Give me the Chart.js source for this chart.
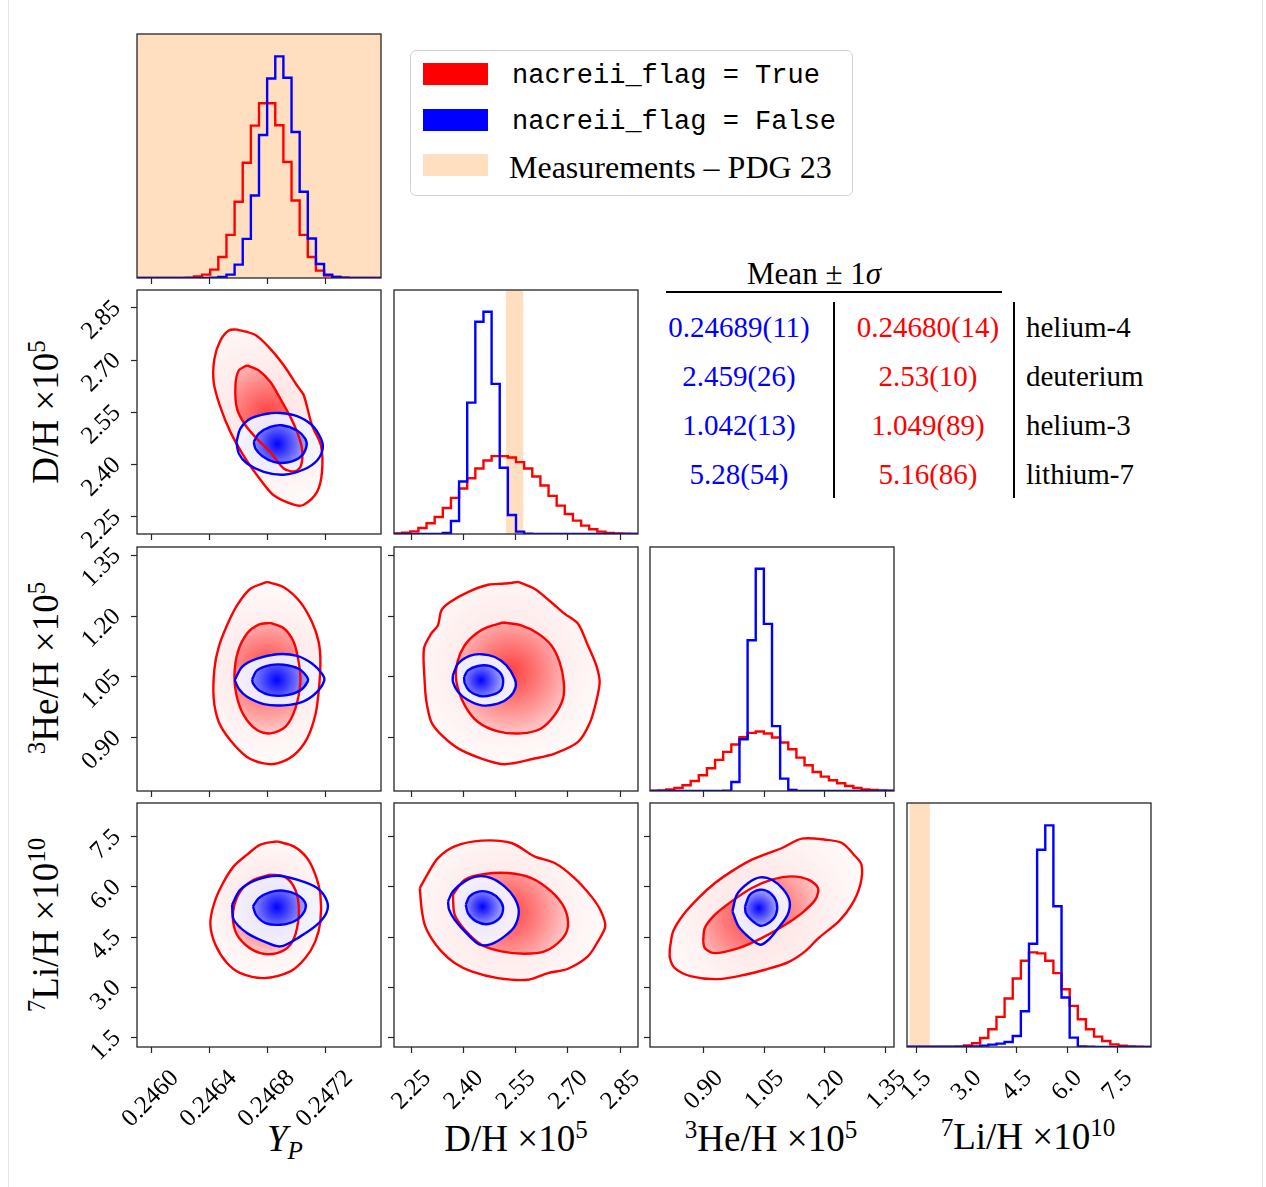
<!DOCTYPE html>
<html>
<head>
<meta charset="utf-8">
<title>BBN corner plot</title>
<script src="https://cdn.jsdelivr.net/npm/chart.js@4.4.1/dist/chart.umd.min.js"></script>
<style>
  html, body { margin: 0; padding: 0; background: #fff; }
  body { position: relative; width: 1266px; height: 1187px; overflow: hidden; font-family: 'Liberation Serif', 'Times New Roman', serif; color: #000; }
  .page-edge { position: absolute; left: 8px; top: -2px; width: 1253px; height: 1200px; border-left: 1px solid #e4e4e4; border-right: 1px solid #e4e4e4; }
  .panel { position: absolute; }
  .axis-title { position: absolute; font-size: 37px; white-space: nowrap; line-height: 1; transform: translate(-50%, -50%); }
  .axis-title.y { transform: translate(-50%, -50%) rotate(-90deg); }
  sup { font-size: 0.68em; position: relative; top: -0.5em; vertical-align: baseline; line-height: 0; }
  sub { font-size: 0.68em; position: relative; top: 0.3em; vertical-align: baseline; line-height: 0; }
  #legend { position: absolute; left: 410px; top: 50px; width: 441px; height: 144px; border: 1.5px solid #d2d2d2; border-radius: 6px; background: #fff; }
  #legend .patch { position: absolute; left: 12px; width: 65px; height: 22px; }
  #legend .label { position: absolute; white-space: nowrap; transform: translateY(-50%); line-height: 1; }
  #legend .mono { left: 101px; font-family: 'Liberation Mono', 'DejaVu Sans Mono', monospace; font-size: 27px; }
  #legend .serif { left: 98px; font-size: 32px; }
  .cell { position: absolute; white-space: nowrap; font-size: 29px; line-height: 1; transform: translate(-50%, -50%); }
  .cell.head { font-size: 31px; }
  .cell.name { transform: translate(0, -50%); }
  .rule { position: absolute; background: #000; }
</style>
</head>
<body>
<div class="page-edge"></div>

<div id="legend">
  <div class="patch" style="top:12px;background:#ff0000"></div>
  <div class="label mono" style="top:25px">nacreii_flag = True</div>
  <div class="patch" style="top:58px;background:#0000ff"></div>
  <div class="label mono" style="top:71px">nacreii_flag = False</div>
  <div class="patch" style="top:103px;background:#ffdfbf"></div>
  <div class="label serif" style="top:116px">Measurements – PDG 23</div>
</div>

<div class="cell head" style="left:814px;top:273px">Mean ± 1<i>σ</i></div>
<div class="rule" style="left:666px;top:291px;width:336px;height:2px"></div>
<div class="rule" style="left:833px;top:302px;width:2px;height:196px"></div>
<div class="rule" style="left:1013px;top:302px;width:2px;height:196px"></div>
<div id="table"></div>

<div class="axis-title" style="left:285px;top:1138px"><i>Y</i><sub><i>P</i></sub></div>
<div class="axis-title" style="left:516px;top:1138px">D/H ×10<sup>5</sup></div>
<div class="axis-title" style="left:771px;top:1138px"><sup>3</sup>He/H ×10<sup>5</sup></div>
<div class="axis-title" style="left:1028px;top:1136px"><sup>7</sup>Li/H ×10<sup>10</sup></div>
<div class="axis-title y" style="left:45px;top:412px">D/H ×10<sup>5</sup></div>
<div class="axis-title y" style="left:45px;top:668px"><sup>3</sup>He/H ×10<sup>5</sup></div>
<div class="axis-title y" style="left:45px;top:925px"><sup>7</sup>Li/H ×10<sup>10</sup></div>

<script>
// ---- summary table ----
const TABLE_NAMES = ['helium-4', 'deuterium', 'helium-3', 'lithium-7'];
const TABLE_FALSE = ['0.24689(11)', '2.459(26)', '1.042(13)', '5.28(54)'];
const TABLE_TRUE = ['0.24680(14)', '2.53(10)', '1.049(89)', '5.16(86)'];

// ---- axes ----
const RANGE_YP = [0.245903, 0.247586];
const RANGE_DH = [2.201, 2.901];
const RANGE_HE3 = [0.769, 1.370];
const RANGE_LI = [1.22, 8.50];

const TICKS_YP = [0.2460, 0.2464, 0.2468, 0.2472];
const TICKS_DH = [2.25, 2.40, 2.55, 2.70, 2.85];
const TICKS_HE3 = [0.90, 1.05, 1.20, 1.35];
const TICKS_LI = [1.5, 3.0, 4.5, 6.0, 7.5];

const TICK_LABELS_YP = ['0.2460', '0.2464', '0.2468', '0.2472'];
const TICK_LABELS_DH = ['2.25', '2.40', '2.55', '2.70', '2.85'];
const TICK_LABELS_HE3 = ['0.90', '1.05', '1.20', '1.35'];
const TICK_LABELS_LI = ['1.5', '3.0', '4.5', '6.0', '7.5'];

// PDG 23 measurement bands (none for helium-3)
const BAND_YP = [0.242, 0.248];
const BAND_DH = [2.522, 2.572];
const BAND_HE3 = null;
const BAND_LI = [1.3, 1.9];

// ---- 1D histograms, 30 bins over the axis range ----
const HIST_YMAX = 730;
const HIST_YP_TRUE = [0, 0, 0, 0, 0, 0, 1, 5, 10, 25, 63, 129, 228, 345, 456, 523, 523, 457, 347, 232, 129, 63, 22, 7, 3, 1, 0, 0, 0, 0];
const HIST_YP_FALSE = [0, 0, 0, 0, 0, 0, 0, 0, 0, 1, 3, 10, 40, 117, 247, 428, 597, 663, 599, 437, 258, 118, 42, 10, 3, 1, 0, 0, 0, 0];
const HIST_DH_TRUE = [2, 4, 8, 18, 32, 51, 78, 108, 136, 167, 196, 220, 233, 233, 229, 215, 196, 172, 145, 114, 85, 60, 40, 25, 14, 7, 3, 2, 1, 0];
const HIST_DH_FALSE = [0, 0, 0, 0, 0, 0, 3, 39, 157, 393, 635, 665, 449, 198, 57, 7, 1, 0, 0, 0, 0, 0, 0, 0, 0, 0, 0, 0, 0, 0];
const HIST_HE3_TRUE = [1, 2, 5, 9, 17, 30, 47, 68, 93, 117, 139, 161, 174, 178, 172, 160, 145, 125, 100, 77, 57, 43, 32, 23, 15, 9, 5, 3, 2, 1];
const HIST_HE3_FALSE = [0, 0, 0, 0, 0, 0, 0, 0, 0, 1, 27, 155, 451, 665, 500, 194, 37, 3, 0, 0, 0, 0, 0, 0, 0, 0, 0, 0, 0, 0];
const HIST_LI_TRUE = [0, 0, 0, 0, 0, 0, 1, 5, 11, 27, 53, 90, 145, 205, 258, 283, 280, 258, 221, 173, 123, 83, 53, 31, 18, 8, 4, 2, 1, 0];
const HIST_LI_FALSE = [1, 1, 1, 1, 1, 1, 1, 1, 2, 4, 7, 10, 15, 33, 107, 309, 590, 663, 421, 148, 28, 2, 1, 0, 0, 0, 0, 0, 0, 0];

// ---- 2D contours [x, y] ----
// Y_P vs D/H
const C_YP_DH_TRUE_OUTER = [[0.246589, 2.788], [0.246720, 2.772], [0.246823, 2.732], [0.246915, 2.685], [0.247007, 2.627], [0.247053, 2.599], [0.247110, 2.513], [0.247172, 2.455], [0.247179, 2.379], [0.247145, 2.322], [0.247053, 2.285], [0.246984, 2.285], [0.246846, 2.312], [0.246766, 2.350], [0.246651, 2.417], [0.246547, 2.494], [0.246474, 2.570], [0.246432, 2.637], [0.246437, 2.704], [0.246478, 2.756], [0.246536, 2.785]];
const C_YP_DH_TRUE_INNER = [[0.246662, 2.685], [0.246743, 2.670], [0.246823, 2.637], [0.246892, 2.589], [0.246961, 2.537], [0.247007, 2.494], [0.247041, 2.446], [0.247035, 2.398], [0.246995, 2.381], [0.246915, 2.389], [0.246823, 2.436], [0.246731, 2.474], [0.246651, 2.513], [0.246593, 2.560], [0.246582, 2.627], [0.246605, 2.670]];
const C_YP_DH_FALSE_OUTER = [[0.246589, 2.465], [0.246616, 2.503], [0.246685, 2.532], [0.246800, 2.546], [0.246892, 2.548], [0.247007, 2.539], [0.247110, 2.513], [0.247172, 2.474], [0.247184, 2.446], [0.247145, 2.412], [0.247053, 2.386], [0.246915, 2.371], [0.246777, 2.379], [0.246662, 2.403], [0.246605, 2.432]];
const C_YP_DH_FALSE_INNER = [[0.246708, 2.465], [0.246743, 2.489], [0.246823, 2.508], [0.246903, 2.513], [0.247007, 2.498], [0.247064, 2.474], [0.247071, 2.451], [0.247030, 2.422], [0.246938, 2.406], [0.246846, 2.408], [0.246766, 2.425], [0.246720, 2.446]];
// Y_P vs 3He/H
const C_YP_HE3_TRUE_OUTER = [[0.246800, 1.284], [0.246915, 1.271], [0.247030, 1.234], [0.247110, 1.185], [0.247156, 1.136], [0.247168, 1.087], [0.247156, 1.013], [0.247133, 0.956], [0.247076, 0.898], [0.246984, 0.857], [0.246869, 0.837], [0.246777, 0.837], [0.246662, 0.853], [0.246547, 0.894], [0.246467, 0.939], [0.246432, 0.997], [0.246437, 1.070], [0.246467, 1.124], [0.246524, 1.177], [0.246593, 1.226], [0.246685, 1.267]];
const C_YP_HE3_TRUE_INNER = [[0.246823, 1.183], [0.246915, 1.170], [0.246984, 1.136], [0.247018, 1.087], [0.247030, 1.038], [0.246995, 0.972], [0.246926, 0.927], [0.246823, 0.911], [0.246731, 0.919], [0.246639, 0.956], [0.246589, 1.005], [0.246575, 1.054], [0.246598, 1.111], [0.246662, 1.157], [0.246743, 1.179]];
const C_YP_HE3_FALSE_OUTER = [[0.246577, 1.042], [0.246628, 1.075], [0.246731, 1.095], [0.246869, 1.106], [0.247007, 1.102], [0.247110, 1.083], [0.247179, 1.058], [0.247195, 1.042], [0.247145, 1.013], [0.247053, 0.990], [0.246915, 0.980], [0.246777, 0.983], [0.246662, 1.001], [0.246605, 1.021]];
const C_YP_HE3_FALSE_INNER = [[0.246697, 1.044], [0.246731, 1.066], [0.246823, 1.079], [0.246915, 1.080], [0.247018, 1.070], [0.247076, 1.050], [0.247081, 1.039], [0.247030, 1.017], [0.246938, 1.005], [0.246823, 1.005], [0.246743, 1.017], [0.246703, 1.034]];
// D/H vs 3He/H
const C_DH_HE3_TRUE_OUTER = [[2.557, 1.284], [2.604, 1.267], [2.652, 1.234], [2.690, 1.206], [2.729, 1.181], [2.757, 1.128], [2.781, 1.079], [2.791, 1.038], [2.781, 0.989], [2.762, 0.935], [2.729, 0.890], [2.662, 0.861], [2.604, 0.849], [2.518, 0.835], [2.452, 0.849], [2.385, 0.874], [2.337, 0.907], [2.308, 0.939], [2.294, 0.989], [2.289, 1.038], [2.287, 1.120], [2.308, 1.157], [2.327, 1.177], [2.337, 1.214], [2.361, 1.234], [2.413, 1.259], [2.471, 1.277], [2.518, 1.280]];
const C_DH_HE3_TRUE_INNER = [[2.514, 1.184], [2.566, 1.177], [2.614, 1.157], [2.652, 1.128], [2.676, 1.087], [2.688, 1.038], [2.686, 0.997], [2.662, 0.956], [2.623, 0.923], [2.566, 0.911], [2.499, 0.916], [2.442, 0.939], [2.404, 0.980], [2.380, 1.038], [2.383, 1.087], [2.404, 1.128], [2.437, 1.157], [2.471, 1.173]];
const C_DH_HE3_FALSE_OUTER = [[2.370, 1.054], [2.385, 1.083], [2.418, 1.102], [2.452, 1.106], [2.490, 1.099], [2.523, 1.079], [2.547, 1.046], [2.550, 1.025], [2.533, 1.001], [2.499, 0.984], [2.452, 0.980], [2.413, 0.993], [2.385, 1.013], [2.370, 1.038]];
const C_DH_HE3_FALSE_INNER = [[2.402, 1.050], [2.413, 1.066], [2.442, 1.077], [2.475, 1.077], [2.504, 1.062], [2.514, 1.042], [2.507, 1.017], [2.480, 1.005], [2.447, 1.003], [2.418, 1.015], [2.404, 1.034]];
// Y_P vs 7Li/H
const C_YP_LI_TRUE_OUTER = [[0.246869, 7.356], [0.246984, 7.206], [0.247076, 6.858], [0.247133, 6.361], [0.247168, 5.764], [0.247168, 4.968], [0.247133, 4.371], [0.247064, 3.873], [0.246961, 3.475], [0.246777, 3.276], [0.246616, 3.425], [0.246524, 3.724], [0.246444, 4.271], [0.246409, 4.868], [0.246432, 5.465], [0.246490, 6.062], [0.246570, 6.609], [0.246662, 6.958], [0.246754, 7.256]];
const C_YP_LI_TRUE_INNER = [[0.246823, 6.361], [0.246915, 6.311], [0.246984, 6.012], [0.247018, 5.465], [0.247007, 4.769], [0.246961, 4.271], [0.246869, 4.022], [0.246754, 4.022], [0.246651, 4.271], [0.246582, 4.669], [0.246566, 5.266], [0.246616, 5.863], [0.246708, 6.211]];
const C_YP_LI_FALSE_OUTER = [[0.246559, 5.465], [0.246616, 5.913], [0.246731, 6.211], [0.246869, 6.331], [0.247007, 6.211], [0.247145, 5.963], [0.247214, 5.565], [0.247209, 5.216], [0.247145, 4.868], [0.247030, 4.520], [0.246892, 4.221], [0.246777, 4.371], [0.246662, 4.619], [0.246570, 5.017]];
const C_YP_LI_FALSE_INNER = [[0.246703, 5.415], [0.246743, 5.664], [0.246823, 5.843], [0.246915, 5.883], [0.247007, 5.764], [0.247064, 5.515], [0.247058, 5.266], [0.246995, 4.988], [0.246892, 4.868], [0.246789, 4.918], [0.246726, 5.147]];
// D/H vs 7Li/H
const C_DH_LI_TRUE_OUTER = [[2.275, 5.963], [2.299, 6.410], [2.327, 6.858], [2.375, 7.206], [2.452, 7.376], [2.538, 7.306], [2.604, 6.908], [2.662, 6.709], [2.719, 6.261], [2.767, 5.714], [2.795, 5.266], [2.807, 4.818], [2.786, 4.371], [2.757, 3.923], [2.700, 3.555], [2.643, 3.425], [2.585, 3.226], [2.499, 3.276], [2.423, 3.475], [2.375, 3.724], [2.337, 4.072], [2.308, 4.470], [2.289, 4.868], [2.280, 5.366]];
const C_DH_LI_TRUE_INNER = [[2.370, 5.764], [2.404, 6.211], [2.461, 6.381], [2.528, 6.410], [2.595, 6.261], [2.652, 5.863], [2.690, 5.366], [2.700, 4.818], [2.681, 4.420], [2.633, 4.072], [2.576, 4.003], [2.509, 4.072], [2.452, 4.271], [2.404, 4.719], [2.375, 5.167]];
const C_DH_LI_FALSE_OUTER = [[2.356, 5.565], [2.370, 5.863], [2.404, 6.162], [2.442, 6.311], [2.480, 6.261], [2.518, 6.012], [2.547, 5.664], [2.559, 5.266], [2.547, 4.818], [2.518, 4.520], [2.480, 4.291], [2.447, 4.271], [2.413, 4.570], [2.375, 5.017], [2.359, 5.316]];
const C_DH_LI_FALSE_INNER = [[2.407, 5.465], [2.418, 5.714], [2.447, 5.863], [2.480, 5.813], [2.504, 5.614], [2.514, 5.366], [2.504, 5.067], [2.471, 4.888], [2.437, 4.968], [2.413, 5.216]];
// 3He/H vs 7Li/H
const C_HE3_LI_TRUE_OUTER = [[0.818, 4.172], [0.826, 4.669], [0.851, 5.167], [0.888, 5.664], [0.929, 6.112], [0.970, 6.460], [1.020, 6.808], [1.094, 7.157], [1.143, 7.435], [1.201, 7.405], [1.242, 7.306], [1.271, 6.958], [1.290, 6.659], [1.287, 6.062], [1.266, 5.465], [1.234, 4.968], [1.184, 4.470], [1.151, 4.072], [1.110, 3.754], [1.052, 3.525], [1.003, 3.376], [0.937, 3.246], [0.871, 3.326], [0.830, 3.575], [0.818, 3.873]];
const C_HE3_LI_TRUE_INNER = [[0.900, 4.371], [0.904, 4.769], [0.929, 5.167], [0.970, 5.565], [1.020, 5.963], [1.069, 6.211], [1.118, 6.311], [1.159, 6.211], [1.183, 5.963], [1.176, 5.614], [1.143, 5.216], [1.102, 4.868], [1.044, 4.470], [0.987, 4.172], [0.929, 4.022], [0.904, 4.172]];
const C_HE3_LI_FALSE_OUTER = [[0.972, 5.266], [0.983, 5.764], [1.011, 6.112], [1.040, 6.281], [1.069, 6.211], [1.098, 5.913], [1.113, 5.565], [1.108, 5.167], [1.085, 4.769], [1.061, 4.420], [1.040, 4.271], [1.015, 4.470], [0.987, 4.818]];
const C_HE3_LI_FALSE_INNER = [[1.003, 5.415], [1.015, 5.764], [1.040, 5.913], [1.065, 5.813], [1.081, 5.515], [1.079, 5.167], [1.061, 4.918], [1.040, 4.838], [1.018, 5.017], [1.005, 5.216]];

// ---- styles ----
const RED = '#ff0000';
const BLUE = '#0000ff';
const BAND_COLOR = '#ffdfbf';
const AXIS_COLOR = '#262626';
const TICK_FONT = { family: "'Liberation Serif', serif", size: 25 };
const X_LABEL_SHIFT = [24, 16, 16, 11];   // centres rotated labels under their tick
const RED_OUTER_FILL = ['rgba(255,0,0,0.12)', 'rgba(255,0,0,0.015)'];
const RED_INNER_FILL = ['rgba(255,0,0,0.72)', 'rgba(255,0,0,0.16)'];
const BLUE_OUTER_FILL = ['rgba(228,228,255,0.97)', 'rgba(248,248,255,0.95)'];
const BLUE_INNER_FILL = ['rgba(0,0,255,1)', 'rgba(165,165,255,0.95)'];

const PANEL_X0 = 137;
const PANEL_Y0 = 33.5;
const PANEL_STEP = 256.5;
const PANEL_SIZE = 244;
const N_BINS = 30;

const RANGES = [RANGE_YP, RANGE_DH, RANGE_HE3, RANGE_LI];
const TICKS = [TICKS_YP, TICKS_DH, TICKS_HE3, TICKS_LI];
const TICK_LABELS = [TICK_LABELS_YP, TICK_LABELS_DH, TICK_LABELS_HE3, TICK_LABELS_LI];
const BANDS = [BAND_YP, BAND_DH, BAND_HE3, BAND_LI];
const HIST_TRUE = [HIST_YP_TRUE, HIST_DH_TRUE, HIST_HE3_TRUE, HIST_LI_TRUE];
const HIST_FALSE = [HIST_YP_FALSE, HIST_DH_FALSE, HIST_HE3_FALSE, HIST_LI_FALSE];
const CONTOURS = {
    '0-1': [C_YP_DH_TRUE_OUTER, C_YP_DH_TRUE_INNER, C_YP_DH_FALSE_OUTER, C_YP_DH_FALSE_INNER],
    '0-2': [C_YP_HE3_TRUE_OUTER, C_YP_HE3_TRUE_INNER, C_YP_HE3_FALSE_OUTER, C_YP_HE3_FALSE_INNER],
    '1-2': [C_DH_HE3_TRUE_OUTER, C_DH_HE3_TRUE_INNER, C_DH_HE3_FALSE_OUTER, C_DH_HE3_FALSE_INNER],
    '0-3': [C_YP_LI_TRUE_OUTER, C_YP_LI_TRUE_INNER, C_YP_LI_FALSE_OUTER, C_YP_LI_FALSE_INNER],
    '1-3': [C_DH_LI_TRUE_OUTER, C_DH_LI_TRUE_INNER, C_DH_LI_FALSE_OUTER, C_DH_LI_FALSE_INNER],
    '2-3': [C_HE3_LI_TRUE_OUTER, C_HE3_LI_TRUE_INNER, C_HE3_LI_FALSE_OUTER, C_HE3_LI_FALSE_INNER]
};

// table cells
const ROW_Y = [327, 376, 425, 474];
const table = document.getElementById('table');
ROW_Y.forEach((y, i) => {
    table.insertAdjacentHTML('beforeend',
        `<div class="cell" style="left:739px;top:${y}px;color:${BLUE}">${TABLE_FALSE[i]}</div>` +
        `<div class="cell" style="left:928px;top:${y}px;color:${RED}">${TABLE_TRUE[i]}</div>` +
        `<div class="cell name" style="left:1026px;top:${y}px">${TABLE_NAMES[i]}</div>`);
});

const bandPlugin = {
    id: 'band',
    beforeDatasetsDraw(chart, args, opts) {
        if (!opts.range)
            return;
        const { ctx, chartArea: a, scales: { x } } = chart;
        const x0 = Math.max(a.left, x.getPixelForValue(opts.range[0]));
        const x1 = Math.min(a.right, x.getPixelForValue(opts.range[1]));
        ctx.save();
        ctx.fillStyle = BAND_COLOR;
        ctx.fillRect(x0, a.top, x1 - x0, a.bottom - a.top);
        ctx.restore();
    }
};

const framePlugin = {
    id: 'frame',
    afterDatasetsDraw(chart) {
        const { ctx, chartArea: a } = chart;
        ctx.save();
        ctx.strokeStyle = AXIS_COLOR;
        ctx.lineWidth = 1.3;
        ctx.strokeRect(a.left, a.top, a.right - a.left, a.bottom - a.top);
        ctx.restore();
    }
};

function binEdges(range) {
    const w = (range[1] - range[0]) / N_BINS;
    return Array.from({ length: N_BINS + 1 }, (_, i) => range[0] + i * w);
}

function histDataset(edges, counts, color, order) {
    const data = [{ x: edges[0], y: 0 }];
    counts.forEach((c, i) => data.push({ x: edges[i], y: c }));
    data.push({ x: edges[counts.length], y: counts[counts.length - 1] });
    data.push({ x: edges[counts.length], y: 0 });
    return {
        data,
        showLine: true,
        stepped: 'before',
        borderColor: color,
        borderWidth: 2.4,
        pointRadius: 0,
        fill: false,
        order
    };
}

// radial shading centred on the contour, to mimic the density image
function radialFill(stops) {
    return (context) => {
        const chart = context.chart;
        const pts = context.dataset && context.dataset.data;
        const xs = chart.scales.x;
        const ys = chart.scales.y;
        if (!chart.chartArea || !pts || !xs || !ys)
            return stops[1];
        const px = pts.map(p => [xs.getPixelForValue(p.x), ys.getPixelForValue(p.y)]);
        let cx = 0, cy = 0;
        px.forEach(([x, y]) => { cx += x; cy += y; });
        cx /= px.length;
        cy /= px.length;
        const r = Math.max(...px.map(([x, y]) => Math.hypot(x - cx, y - cy)));
        const g = chart.ctx.createRadialGradient(cx, cy, 0, cx, cy, r);
        g.addColorStop(0, stops[0]);
        g.addColorStop(1, stops[1]);
        return g;
    };
}

function contourDataset(points, color, fillStops, order) {
    return {
        data: points.concat([points[0]]).map(([x, y]) => ({ x, y })),
        showLine: true,
        tension: 0.3,
        borderColor: color,
        borderWidth: 2.4,
        pointRadius: 0,
        fill: 'shape',
        backgroundColor: radialFill(fillStops),
        order
    };
}

function makePanel(row, col) {
    const isHist = row === col;
    const labelsX = row === 3;
    const labelsY = col === 0 && row > 0;
    // generous margins so the rotated labels never squeeze the plot area
    const L = labelsY ? 110 : 60;
    const B = labelsX ? 110 : 60;
    const T = 60;
    const R = 60;

    const box = document.createElement('div');
    box.className = 'panel';
    box.style.left = Math.round(PANEL_X0 + col * PANEL_STEP - L) + 'px';
    box.style.top = Math.round(PANEL_Y0 + row * PANEL_STEP - T) + 'px';
    box.style.width = (L + PANEL_SIZE + R) + 'px';
    box.style.height = (T + PANEL_SIZE + B) + 'px';
    const canvas = document.createElement('canvas');
    box.appendChild(canvas);
    document.body.appendChild(box);

    let datasets;
    if (isHist) {
        const edges = binEdges(RANGES[col]);
        datasets = [
            histDataset(edges, HIST_FALSE[col], BLUE, 1),
            histDataset(edges, HIST_TRUE[col], RED, 2)
        ];
    } else {
        const [tOut, tIn, fOut, fIn] = CONTOURS[col + '-' + row];
        datasets = [
            contourDataset(fIn, BLUE, BLUE_INNER_FILL, 1),
            contourDataset(fOut, BLUE, BLUE_OUTER_FILL, 2),
            contourDataset(tIn, RED, RED_INNER_FILL, 3),
            contourDataset(tOut, RED, RED_OUTER_FILL, 4)
        ];
    }

    const tickGrid = {
        display: true,
        drawOnChartArea: false,
        drawTicks: true,
        tickLength: 6,
        tickWidth: 1.2,
        tickColor: AXIS_COLOR
    };

    const xScale = {
        type: 'linear',
        position: 'bottom',
        min: RANGES[col][0],
        max: RANGES[col][1],
        afterBuildTicks: s => { s.ticks = TICKS[col].map(v => ({ value: v })); },
        afterFit: s => { s.height = B; },
        grid: tickGrid,
        border: { display: false },
        ticks: {
            display: labelsX,
            autoSkip: false,
            minRotation: 45,
            maxRotation: 45,
            padding: 11,
            labelOffset: X_LABEL_SHIFT[col],
            font: TICK_FONT,
            color: '#000',
            callback: (v, i) => TICK_LABELS[col][i]
        }
    };

    const yScale = isHist ? {
        type: 'linear',
        min: 0,
        max: HIST_YMAX,
        afterFit: s => { s.width = L; },
        grid: { display: false },
        border: { display: false },
        ticks: { display: false }
    } : {
        type: 'linear',
        position: 'left',
        min: RANGES[row][0],
        max: RANGES[row][1],
        afterBuildTicks: s => { s.ticks = TICKS[row].map(v => ({ value: v })); },
        afterFit: s => { s.width = L; },
        grid: tickGrid,
        border: { display: false },
        ticks: {
            display: labelsY,
            autoSkip: false,
            minRotation: 45,
            maxRotation: 45,
            padding: 14,
            labelOffset: -3,
            font: TICK_FONT,
            color: '#000',
            callback: (v, i) => TICK_LABELS[row][i]
        }
    };

    new Chart(canvas.getContext('2d'), {
        type: 'scatter',
        data: { datasets },
        options: {
            responsive: true,
            maintainAspectRatio: false,
            animation: false,
            events: [],
            layout: { padding: { top: T, right: R, left: 0, bottom: 0 } },
            plugins: {
                legend: { display: false },
                tooltip: { enabled: false },
                filler: { drawTime: 'beforeDatasetsDraw' },
                band: { range: isHist ? BANDS[col] : null }
            },
            scales: { x: xScale, y: yScale }
        },
        plugins: [bandPlugin, framePlugin]
    });
}

for (let row = 0; row < 4; row++)
    for (let col = 0; col <= row; col++)
        makePanel(row, col);
</script>
</body>
</html>
